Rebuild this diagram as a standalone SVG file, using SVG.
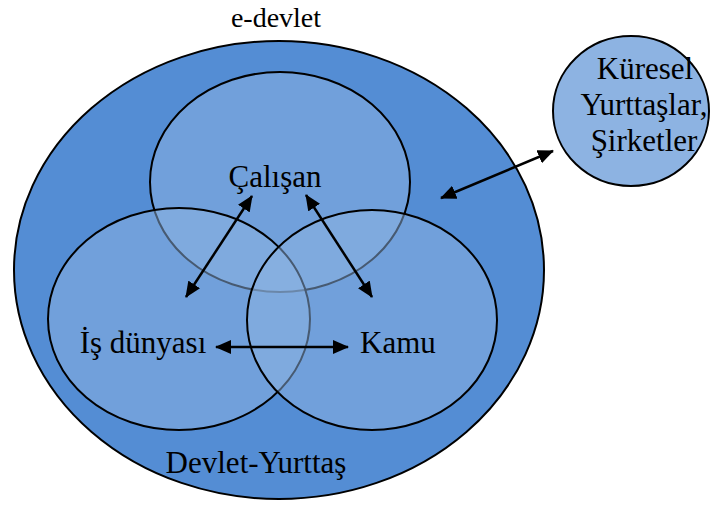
<svg xmlns="http://www.w3.org/2000/svg" width="710" height="506" viewBox="0 0 710 506">
<defs>
<marker id="ah" viewBox="0 0 16 14" refX="15" refY="7" markerWidth="16" markerHeight="14" markerUnits="userSpaceOnUse" orient="auto-start-reverse">
<path d="M0,0 L16,7 L0,14 Z" fill="#000"/>
</marker>
<style>
.t{font-family:"Liberation Serif","Times New Roman",serif;font-size:31px;fill:#000;text-anchor:middle}
.inner{fill:#8db3e2;fill-opacity:0.5;stroke:#000;stroke-width:2}
.conn line{stroke:#000;stroke-width:2.5;marker-start:url(#ah);marker-end:url(#ah)}
</style>
</defs>
<rect width="710" height="506" fill="#fff"/>
<g id="edevlet">
<ellipse cx="279" cy="270" rx="265" ry="229" fill="#548dd4" stroke="#000" stroke-width="2"/>
<text class="t" x="276" y="27" style="font-size:28px">e-devlet</text>
<text class="t" x="256" y="473">Devlet-Yurttaş</text>
</g>
<g id="calisan">
<ellipse class="inner" cx="280" cy="182" rx="130" ry="110"/>
</g>
<g id="isdunyasi">
<ellipse class="inner" cx="179" cy="319" rx="131" ry="111"/>
</g>
<g id="kamu">
<ellipse class="inner" cx="372" cy="320" rx="125" ry="110"/>
</g>
<g id="kuresel">
<ellipse cx="631" cy="111" rx="78" ry="75" fill="#8db3e2" stroke="#000" stroke-width="2"/>
<text class="t" x="645" y="79">Küresel</text>
<text class="t" x="644" y="115">Yurttaşlar,</text>
<text class="t" x="644" y="151">Şirketler</text>
</g>
<g id="labels">
<text class="t" x="275" y="187">Çalışan</text>
<text class="t" x="143" y="353">İş dünyası</text>
<text class="t" x="398" y="353">Kamu</text>
</g>
<g class="conn" id="connectors">
<line x1="252" y1="196" x2="186" y2="297"/>
<line x1="306" y1="195" x2="372" y2="297"/>
<line x1="216" y1="347" x2="348" y2="347"/>
<line x1="441" y1="198" x2="553" y2="151"/>
</g>
</svg>
